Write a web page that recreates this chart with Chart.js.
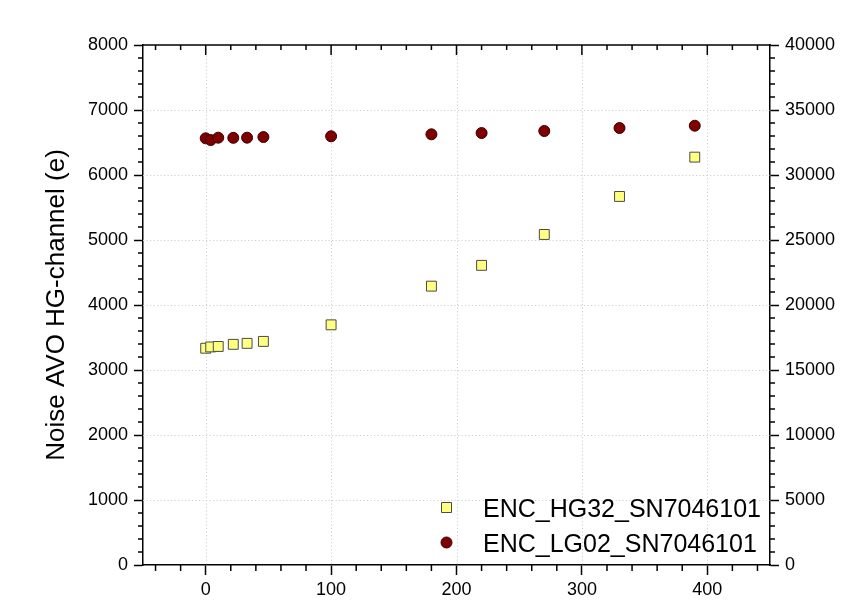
<!DOCTYPE html>
<html>
<head>
<meta charset="utf-8">
<script src="https://cdn.jsdelivr.net/npm/chart.js@4/dist/chart.umd.min.js"></script>
<style>
html,body{margin:0;padding:0;background:#fff;}
canvas{display:block;}
</style>
</head>
<body>
<canvas id="c" width="845" height="613"></canvas>
<script>
// ---- data ----
const xValues = [0, 4, 10, 22, 33, 46, 100, 180, 220, 270, 330, 390];
const hgNoise = [3335, 3355, 3362, 3395, 3410, 3440, 3695, 4290, 4610, 5085, 5670, 6275];
const lgNoise = [32820, 32690, 32870, 32860, 32870, 32920, 32980, 33130, 33230, 33385, 33615, 33790];
const seriesLabels = ['ENC_HG32_SN7046101', 'ENC_LG02_SN7046101'];
const xTicks = [0, 100, 200, 300, 400];
const yLeftTicks = [0, 1000, 2000, 3000, 4000, 5000, 6000, 7000, 8000];
const yRightTicks = [0, 5000, 10000, 15000, 20000, 25000, 30000, 35000, 40000];
const yTitle = 'Noise AVO HG-channel (e)';

const FONT = "'Liberation Sans', Arial, Helvetica, sans-serif";

function pts(xs, ys) { return xs.map((x, i) => ({x: x, y: ys[i]})); }
function setTicks(list) { return function (scale) { scale.ticks = list.map(v => ({value: v})); }; }
function plain(v) { return String(v); }

const framePlugin = {
  id: 'frame',
  beforeDatasetsDraw(chart) {
    const ctx = chart.ctx, a = chart.chartArea;
    const xs = chart.scales.x, ys = chart.scales.y;
    ctx.save();
    ctx.strokeStyle = '#cfcfcf';
    ctx.lineWidth = 1;
    ctx.setLineDash([1.2, 2.3]);
    xTicks.forEach(v => {
      const px = Math.round(xs.getPixelForValue(v)) + 0.5;
      ctx.beginPath(); ctx.moveTo(px, a.top); ctx.lineTo(px, a.bottom); ctx.stroke();
    });
    yLeftTicks.forEach(v => {
      if (v === 0 || v === 8000) return;
      const py = Math.round(ys.getPixelForValue(v)) + 0.5;
      ctx.beginPath(); ctx.moveTo(a.left, py); ctx.lineTo(a.right, py); ctx.stroke();
    });
    ctx.restore();
  },
  afterDraw(chart) {
    const ctx = chart.ctx, a = chart.chartArea;
    const xs = chart.scales.x, ys = chart.scales.y, y2 = chart.scales.y2;
    ctx.save();
    ctx.strokeStyle = '#000';
    ctx.lineWidth = 1.5;
    ctx.setLineDash([]);
    // top border
    ctx.beginPath(); ctx.moveTo(a.left - 1, a.top); ctx.lineTo(a.right + 1, a.top); ctx.stroke();
    // x minor ticks (bottom outward, top inward) and top major ticks
    for (let v = -40; v <= 440; v += 20) {
      const px = xs.getPixelForValue(v);
      const major = v % 100 === 0;
      if (!major) {
        ctx.beginPath(); ctx.moveTo(px, a.bottom); ctx.lineTo(px, a.bottom + 6); ctx.stroke();
        ctx.beginPath(); ctx.moveTo(px, a.top); ctx.lineTo(px, a.top + 5); ctx.stroke();
      } else {
        ctx.beginPath(); ctx.moveTo(px, a.top); ctx.lineTo(px, a.top + 10); ctx.stroke();
      }
    }
    // left minor ticks
    for (let v = 200; v < 8000; v += 200) {
      if (v % 1000 === 0) continue;
      const py = ys.getPixelForValue(v);
      ctx.beginPath(); ctx.moveTo(a.left, py); ctx.lineTo(a.left - 5, py); ctx.stroke();
    }
    // right minor ticks
    for (let v = 1000; v < 40000; v += 1000) {
      if (v % 5000 === 0) continue;
      const py = y2.getPixelForValue(v);
      ctx.beginPath(); ctx.moveTo(a.right, py); ctx.lineTo(a.right + 5, py); ctx.stroke();
    }
    // legend
    const lx = 446.5, ly0 = 507.5, dy = 35;
    chart.data.datasets.forEach((ds, i) => {
      const y = ly0 + i * dy;
      ctx.save();
      ctx.fillStyle = ds.backgroundColor;
      ctx.strokeStyle = ds.borderColor;
      ctx.lineWidth = 1;
      if (ds.pointStyle === 'rect') {
        ctx.beginPath(); ctx.rect(lx - 5, y - 5, 10, 10); ctx.fill(); ctx.stroke();
      } else {
        ctx.beginPath(); ctx.arc(lx, y, 5.5, 0, Math.PI * 2); ctx.fill(); ctx.stroke();
      }
      ctx.restore();
      ctx.fillStyle = '#000';
      ctx.font = '25px ' + FONT;
      ctx.textAlign = 'left';
      ctx.textBaseline = 'alphabetic';
      ctx.fillText(ds.label, 483, y + 9.3);
    });
    ctx.restore();
  }
};

new Chart(document.getElementById('c'), {
  type: 'scatter',
  data: {
    datasets: [
      {
        label: seriesLabels[0],
        data: pts(xValues, hgNoise),
        yAxisID: 'y',
        pointStyle: 'rect',
        pointRadius: 7,
        backgroundColor: '#ffff80',
        borderColor: '#4a4a4a',
        borderWidth: 1,
        showLine: false
      },
      {
        label: seriesLabels[1],
        data: pts(xValues, lgNoise),
        yAxisID: 'y2',
        pointStyle: 'circle',
        pointRadius: 5.5,
        backgroundColor: '#7f0000',
        borderColor: '#3a0000',
        borderWidth: 1,
        showLine: false
      }
    ]
  },
  options: {
    responsive: false,
    animation: false,
    devicePixelRatio: 1,
    layout: {padding: {top: 45, left: 0, right: 0, bottom: 0}},
    plugins: {legend: {display: false}, tooltip: {enabled: false}},
    scales: {
      x: {
        type: 'linear', position: 'bottom', min: -50, max: 450,
        afterBuildTicks: setTicks(xTicks),
        afterFit(s) { s.height = 48; },
        grid: {drawOnChartArea: false, drawTicks: true, tickLength: 10, tickColor: '#000', tickWidth: 1.5},
        border: {display: true, color: '#000', width: 1.5},
        ticks: {color: '#000', font: {family: FONT, size: 18}, padding: 4, maxRotation: 0, autoSkip: false, callback: plain}
      },
      y: {
        type: 'linear', position: 'left', min: 0, max: 8000,
        afterBuildTicks: setTicks(yLeftTicks),
        afterFit(s) { s.width = 143; },
        grid: {drawOnChartArea: false, drawTicks: true, tickLength: 9, tickColor: '#000', tickWidth: 1.5},
        border: {display: true, color: '#000', width: 1.5},
        ticks: {color: '#000', font: {family: FONT, size: 18}, padding: 6, autoSkip: false, callback: plain},
        title: {display: true, text: yTitle, color: '#000', font: {family: FONT, size: 26}, padding: {top: 41, bottom: 0}}
      },
      y2: {
        type: 'linear', position: 'right', min: 0, max: 40000,
        afterBuildTicks: setTicks(yRightTicks),
        afterFit(s) { s.width = 75; },
        grid: {drawOnChartArea: false, drawTicks: true, tickLength: 9, tickColor: '#000', tickWidth: 1.5},
        border: {display: true, color: '#000', width: 1.5},
        ticks: {color: '#000', font: {family: FONT, size: 18}, padding: 6, autoSkip: false, callback: plain}
      }
    }
  },
  plugins: [framePlugin]
});
</script>
</body>
</html>
